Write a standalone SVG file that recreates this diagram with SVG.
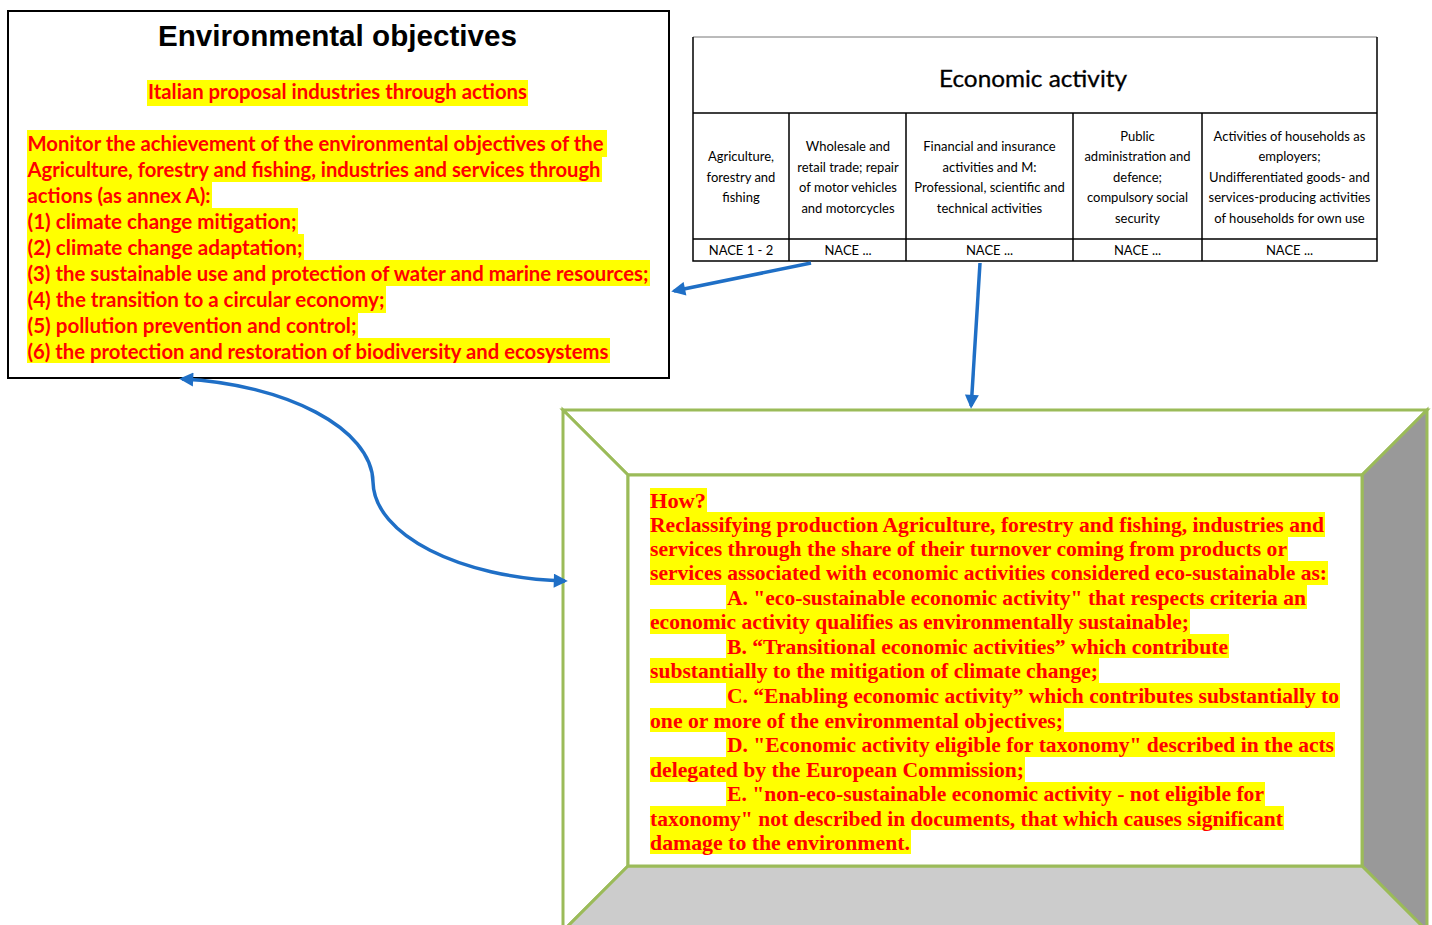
<svg xmlns="http://www.w3.org/2000/svg" width="1432" height="925" viewBox="0 0 1432 925">
<defs>
<style>
.hl{fill:#FFFF00}
.rs{font-family:Lato,"Liberation Sans",sans-serif;font-weight:bold;font-size:20px;fill:#FF0000}
.rt{font-family:"Liberation Serif",serif;font-weight:bold;font-size:21px;fill:#FF0000}
.tb{font-family:Lato,"Liberation Sans",sans-serif;font-size:13px;fill:#000;text-anchor:middle}
.grid{stroke:#000;stroke-width:1.5;fill:none}
.conn{stroke:#1F6FC6;stroke-width:3.5;fill:none}
.fr{stroke:#9BBB59;stroke-width:3;stroke-linejoin:miter}
</style>
<marker id="ah" viewBox="0 0 10 10" refX="8" refY="5" markerWidth="16" markerHeight="14" markerUnits="userSpaceOnUse" orient="auto-start-reverse">
<path d="M0,0 L10,5 L0,10 z" fill="#1F6FC6"/>
</marker>
</defs>
<rect width="1432" height="925" fill="#FFFFFF"/>

<g id="env-objectives">
<rect x="8" y="11" width="661" height="367" fill="#FFFFFF" stroke="#000" stroke-width="2"/>
<text x="337.5" y="46" text-anchor="middle" font-family="'Liberation Sans',Arial,sans-serif" font-weight="bold" font-size="29" textLength="359" lengthAdjust="spacingAndGlyphs">Environmental objectives</text>
<rect class="hl" x="147" y="80" width="381" height="26"/>
<text class="rs" x="148" y="99" textLength="379" lengthAdjust="spacingAndGlyphs">Italian proposal industries through actions</text>
<rect class="hl" x="27" y="130" width="580" height="27"/>
<rect class="hl" x="27" y="157" width="575" height="25"/>
<rect class="hl" x="27" y="182" width="185" height="26"/>
<rect class="hl" x="27" y="208" width="271" height="26"/>
<rect class="hl" x="27" y="234" width="277" height="26"/>
<rect class="hl" x="27" y="260" width="623" height="26"/>
<rect class="hl" x="27" y="286" width="359" height="27"/>
<rect class="hl" x="27" y="313" width="331" height="25"/>
<rect class="hl" x="27" y="338" width="583" height="25"/>
<text class="rs" x="27.5" y="151" textLength="576" lengthAdjust="spacingAndGlyphs">Monitor the achievement of the environmental objectives of the</text>
<text class="rs" x="27.5" y="177" textLength="573" lengthAdjust="spacingAndGlyphs">Agriculture, forestry and fishing, industries and services through</text>
<text class="rs" x="27.5" y="203" textLength="183" lengthAdjust="spacingAndGlyphs">actions (as annex A):</text>
<text class="rs" x="27.5" y="229" textLength="269" lengthAdjust="spacingAndGlyphs">(1) climate change mitigation;</text>
<text class="rs" x="27.5" y="255" textLength="275" lengthAdjust="spacingAndGlyphs">(2) climate change adaptation;</text>
<text class="rs" x="27.5" y="281" textLength="621" lengthAdjust="spacingAndGlyphs">(3) the sustainable use and protection of water and marine resources;</text>
<text class="rs" x="27.5" y="307" textLength="357" lengthAdjust="spacingAndGlyphs">(4) the transition to a circular economy;</text>
<text class="rs" x="27.5" y="333" textLength="329" lengthAdjust="spacingAndGlyphs">(5) pollution prevention and control;</text>
<text class="rs" x="27.5" y="359" textLength="581" lengthAdjust="spacingAndGlyphs">(6) the protection and restoration of biodiversity and ecosystems</text>
</g>

<g id="economic-activity">
<rect x="693" y="37" width="684" height="224" fill="#FFFFFF"/>
<line x1="693" y1="37" x2="1377" y2="37" stroke="#777" stroke-width="1"/>
<path class="grid" d="M693,37 V261 H1377 V37 M693,113 H1377 M693,239 H1377 M789,113 V261 M906,113 V261 M1073,113 V261 M1202,113 V261"/>
<text x="1033" y="87" text-anchor="middle" font-family="Lato,'Liberation Sans',sans-serif" font-size="23" textLength="188" lengthAdjust="spacingAndGlyphs" stroke="#000" stroke-width="0.3">Economic activity</text>
<text class="tb" x="741" y="161">Agriculture,</text>
<text class="tb" x="741" y="182">forestry and</text>
<text class="tb" x="741" y="202">fishing</text>
<text class="tb" x="848" y="151">Wholesale and</text>
<text class="tb" x="848" y="172">retail trade; repair</text>
<text class="tb" x="848" y="192">of motor vehicles</text>
<text class="tb" x="848" y="213">and motorcycles</text>
<text class="tb" x="989.5" y="151">Financial and insurance</text>
<text class="tb" x="989.5" y="172">activities and M:</text>
<text class="tb" x="989.5" y="192">Professional, scientific and</text>
<text class="tb" x="989.5" y="213">technical activities</text>
<text class="tb" x="1137.5" y="141">Public</text>
<text class="tb" x="1137.5" y="161">administration and</text>
<text class="tb" x="1137.5" y="182">defence;</text>
<text class="tb" x="1137.5" y="202">compulsory social</text>
<text class="tb" x="1137.5" y="223">security</text>
<text class="tb" x="1289.5" y="141">Activities of households as</text>
<text class="tb" x="1289.5" y="161">employers;</text>
<text class="tb" x="1289.5" y="182">Undifferentiated goods- and</text>
<text class="tb" x="1289.5" y="202">services-producing activities</text>
<text class="tb" x="1289.5" y="223">of households for own use</text>
<text class="tb" x="741" y="255">NACE 1 - 2</text>
<text class="tb" x="848" y="255">NACE ...</text>
<text class="tb" x="989.5" y="255">NACE ...</text>
<text class="tb" x="1137.5" y="255">NACE ...</text>
<text class="tb" x="1289.5" y="255">NACE ...</text>
</g>

<g id="how-frame">
<polygon class="fr" points="563,410 1427,410 1362,475 628,475" fill="#FFFFFF"/>
<polygon class="fr" points="563,410 628,475 628,866 563,931" fill="#FFFFFF"/>
<polygon class="fr" points="1427,410 1427,931 1362,866 1362,475" fill="#999999"/>
<polygon class="fr" points="628,866 1362,866 1427,931 563,931" fill="#CCCCCC"/>
<rect class="fr" x="628" y="475" width="734" height="391" fill="#FFFFFF"/>
<rect class="hl" x="650" y="488" width="57" height="24"/>
<rect class="hl" x="650" y="512" width="675" height="25"/>
<rect class="hl" x="650" y="537" width="638" height="24"/>
<rect class="hl" x="650" y="561" width="678" height="24"/>
<rect class="hl" x="726" y="585" width="581" height="24"/>
<rect class="hl" x="650" y="609" width="540" height="25"/>
<rect class="hl" x="726" y="634" width="503" height="24"/>
<rect class="hl" x="650" y="658" width="449" height="25"/>
<rect class="hl" x="726" y="683" width="614" height="25"/>
<rect class="hl" x="650" y="708" width="414" height="24"/>
<rect class="hl" x="726" y="732" width="609" height="25"/>
<rect class="hl" x="650" y="757" width="375" height="25"/>
<rect class="hl" x="726" y="782" width="539" height="24"/>
<rect class="hl" x="650" y="806" width="634" height="24"/>
<rect class="hl" x="650" y="830" width="261" height="24"/>
<text class="rt" x="650" y="508" textLength="56" lengthAdjust="spacingAndGlyphs">How?</text>
<text class="rt" x="650" y="532" textLength="674" lengthAdjust="spacingAndGlyphs">Reclassifying production Agriculture, forestry and fishing, industries and</text>
<text class="rt" x="650" y="556" textLength="637" lengthAdjust="spacingAndGlyphs">services through the share of their turnover coming from products or</text>
<text class="rt" x="650" y="580" textLength="677" lengthAdjust="spacingAndGlyphs">services associated with economic activities considered eco-sustainable as:</text>
<text class="rt" x="727" y="605" textLength="579" lengthAdjust="spacingAndGlyphs">A. "eco-sustainable economic activity" that respects criteria an</text>
<text class="rt" x="650" y="629" textLength="539" lengthAdjust="spacingAndGlyphs">economic activity qualifies as environmentally sustainable;</text>
<text class="rt" x="727" y="654" textLength="501" lengthAdjust="spacingAndGlyphs">B. “Transitional economic activities” which contribute</text>
<text class="rt" x="650" y="678" textLength="448" lengthAdjust="spacingAndGlyphs">substantially to the mitigation of climate change;</text>
<text class="rt" x="727" y="703" textLength="612" lengthAdjust="spacingAndGlyphs">C. “Enabling economic activity” which contributes substantially to</text>
<text class="rt" x="650" y="728" textLength="413" lengthAdjust="spacingAndGlyphs">one or more of the environmental objectives;</text>
<text class="rt" x="727" y="752" textLength="607" lengthAdjust="spacingAndGlyphs">D. "Economic activity eligible for taxonomy" described in the acts</text>
<text class="rt" x="650" y="777" textLength="374" lengthAdjust="spacingAndGlyphs">delegated by the European Commission;</text>
<text class="rt" x="727" y="801" textLength="537" lengthAdjust="spacingAndGlyphs">E. "non-eco-sustainable economic activity - not eligible for</text>
<text class="rt" x="650" y="826" textLength="633" lengthAdjust="spacingAndGlyphs">taxonomy" not described in documents, that which causes significant</text>
<text class="rt" x="650" y="850" textLength="260" lengthAdjust="spacingAndGlyphs">damage to the environment.</text>
</g>

<g id="connectors">
<line class="conn" x1="811" y1="263" x2="674" y2="291" marker-end="url(#ah)"/>
<line class="conn" x1="980" y1="263" x2="971.2" y2="406" marker-end="url(#ah)"/>
<path class="conn" d="M182,379 C285,384 372,428 373,482 C374,535 460,578 565,581" marker-start="url(#ah)" marker-end="url(#ah)"/>
</g>
</svg>
